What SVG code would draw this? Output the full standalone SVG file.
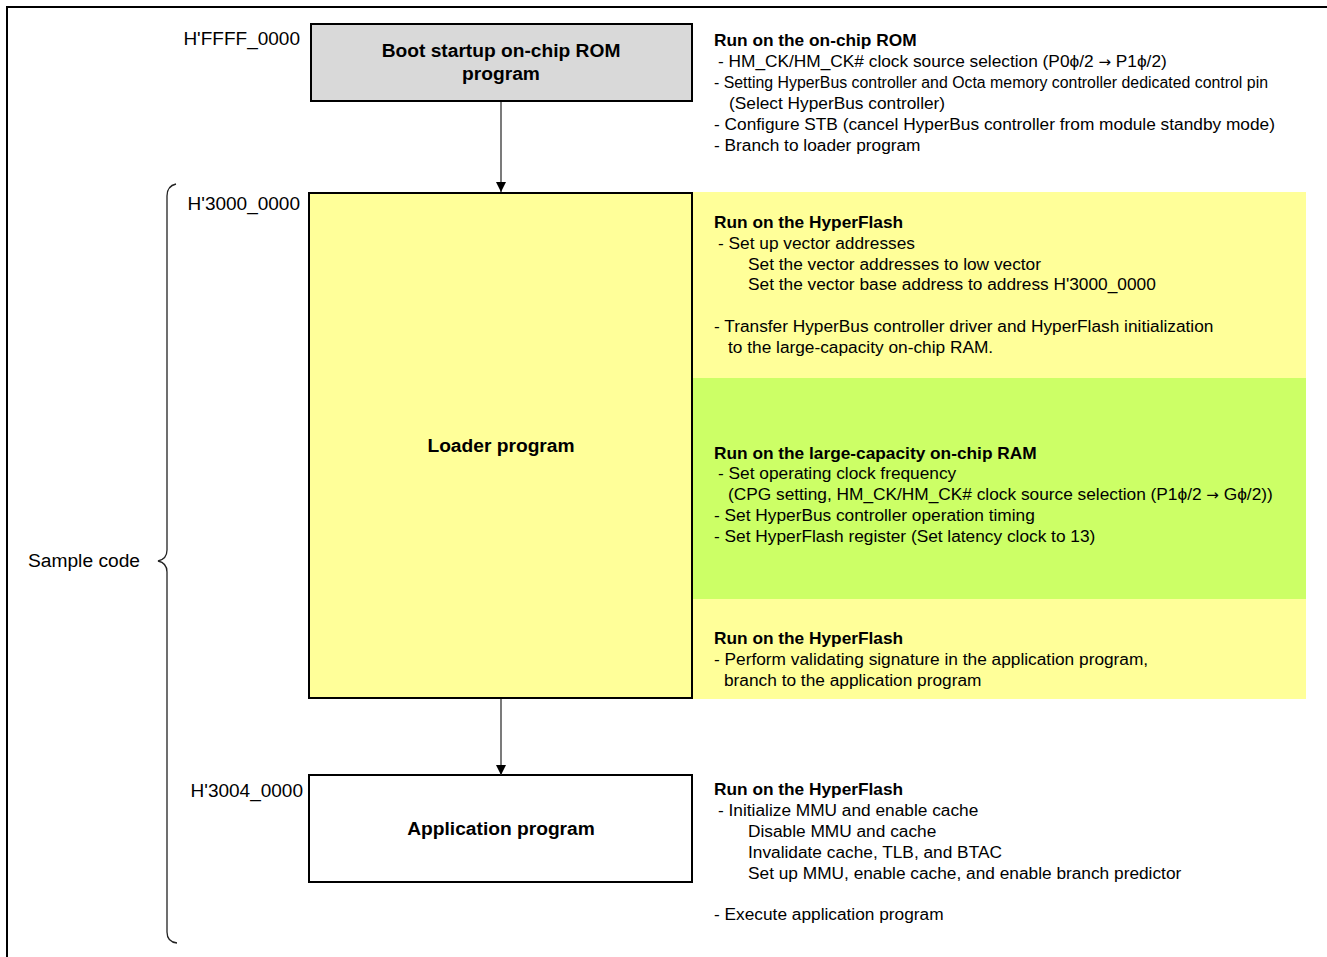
<svg xmlns="http://www.w3.org/2000/svg" width="1327" height="957" viewBox="0 0 1327 957">
<style>
.box{stroke:#000;stroke-width:2}
.title{font-family:"Liberation Sans",Arial,sans-serif;font-size:19.2px;font-weight:bold;fill:#000;text-anchor:middle}
.addr{font-family:"Liberation Sans",Arial,sans-serif;font-size:19px;fill:#000;text-anchor:end}
.t{font-family:"Liberation Sans",Arial,sans-serif;font-size:17.3px;fill:#000}
.b{font-weight:bold}
.ar{font-family:"DejaVu Sans",sans-serif;font-size:15px}
.conn{stroke:#333;stroke-width:1.3;fill:none}
</style>
<defs>
<marker id="arr" viewBox="0 0 10 10" refX="10" refY="5" markerWidth="10" markerHeight="10" markerUnits="userSpaceOnUse" orient="auto">
<path d="M0,0 L10,5 L0,10 z" fill="#000"/>
</marker>
</defs>
<rect width="1327" height="957" fill="#fff"/>
<g id="frame">
<path d="M7,957 L7,7 L1327,7" fill="none" stroke="#000" stroke-width="2"/>
</g>
<g id="panels">
<rect x="692" y="192" width="614" height="186" fill="#FFFF99"/>
<rect x="692" y="378" width="614" height="221" fill="#CCFF66"/>
<rect x="692" y="599" width="614" height="100" fill="#FFFF99"/>
</g>
<g id="boot">
<rect class="box" x="311" y="24" width="381" height="77" fill="#D9D9D9"/>
<text class="title" x="501" y="57">Boot startup on-chip ROM</text>
<text class="title" x="501" y="80">program</text>
</g>
<g id="loader">
<rect class="box" x="309" y="193" width="383" height="505" fill="#FFFF99"/>
<text class="title" x="501" y="452">Loader program</text>
</g>
<g id="app">
<rect class="box" x="309" y="775" width="383" height="107" fill="#fff"/>
<text class="title" x="501" y="835">Application program</text>
</g>
<g id="connectors">
<line class="conn" x1="501" y1="102" x2="501" y2="192" marker-end="url(#arr)"/>
<line class="conn" x1="501" y1="699" x2="501" y2="775" marker-end="url(#arr)"/>
</g>
<g id="labels">
<text class="addr" x="300" y="45">H'FFFF_0000</text>
<text class="addr" x="300" y="210">H'3000_0000</text>
<text class="addr" x="303" y="797">H'3004_0000</text>
<text class="t" x="28" y="567" style="font-size:19.2px">Sample code</text>
</g>
<g id="brace">
<path d="M176,184 Q167,186 167,196 L167,550 Q167,559 158,561 Q167,563 167,572 L167,932 Q167,942 177,943" fill="none" stroke="#222" stroke-width="1.3"/>
</g>
<g id="desc-rom">
<text class="t b" x="714" y="46">Run on the on-chip ROM</text>
<text class="t" x="718" y="67">- HM_CK/HM_CK# clock source selection (P0ϕ/2 <tspan class="ar">→</tspan> P1ϕ/2)</text>
<text class="t" x="714" y="88" textLength="554" lengthAdjust="spacingAndGlyphs">- Setting HyperBus controller and Octa memory controller dedicated control pin</text>
<text class="t" x="729" y="109">(Select HyperBus controller)</text>
<text class="t" x="714" y="130">- Configure STB (cancel HyperBus controller from module standby mode)</text>
<text class="t" x="714" y="151">- Branch to loader program</text>
</g>
<g id="desc-flash1">
<text class="t b" x="714" y="228">Run on the HyperFlash</text>
<text class="t" x="718" y="249">- Set up vector addresses</text>
<text class="t" x="748" y="270">Set the vector addresses to low vector</text>
<text class="t" x="748" y="290">Set the vector base address to address H'3000_0000</text>
<text class="t" x="714" y="332">- Transfer HyperBus controller driver and HyperFlash initialization</text>
<text class="t" x="728" y="353">to the large-capacity on-chip RAM.</text>
</g>
<g id="desc-ram">
<text class="t b" x="714" y="459">Run on the large-capacity on-chip RAM</text>
<text class="t" x="718" y="479">- Set operating clock frequency</text>
<text class="t" x="728" y="500">(CPG setting, HM_CK/HM_CK# clock source selection (P1ϕ/2 <tspan class="ar">→</tspan> Gϕ/2))</text>
<text class="t" x="714" y="521">- Set HyperBus controller operation timing</text>
<text class="t" x="714" y="542">- Set HyperFlash register (Set latency clock to 13)</text>
</g>
<g id="desc-flash2">
<text class="t b" x="714" y="644">Run on the HyperFlash</text>
<text class="t" x="714" y="665">- Perform validating signature in the application program,</text>
<text class="t" x="724" y="686">branch to the application program</text>
</g>
<g id="desc-app">
<text class="t b" x="714" y="795">Run on the HyperFlash</text>
<text class="t" x="718" y="816">- Initialize MMU and enable cache</text>
<text class="t" x="748" y="837">Disable MMU and cache</text>
<text class="t" x="748" y="858">Invalidate cache, TLB, and BTAC</text>
<text class="t" x="748" y="879">Set up MMU, enable cache, and enable branch predictor</text>
<text class="t" x="714" y="920">- Execute application program</text>
</g>
</svg>
